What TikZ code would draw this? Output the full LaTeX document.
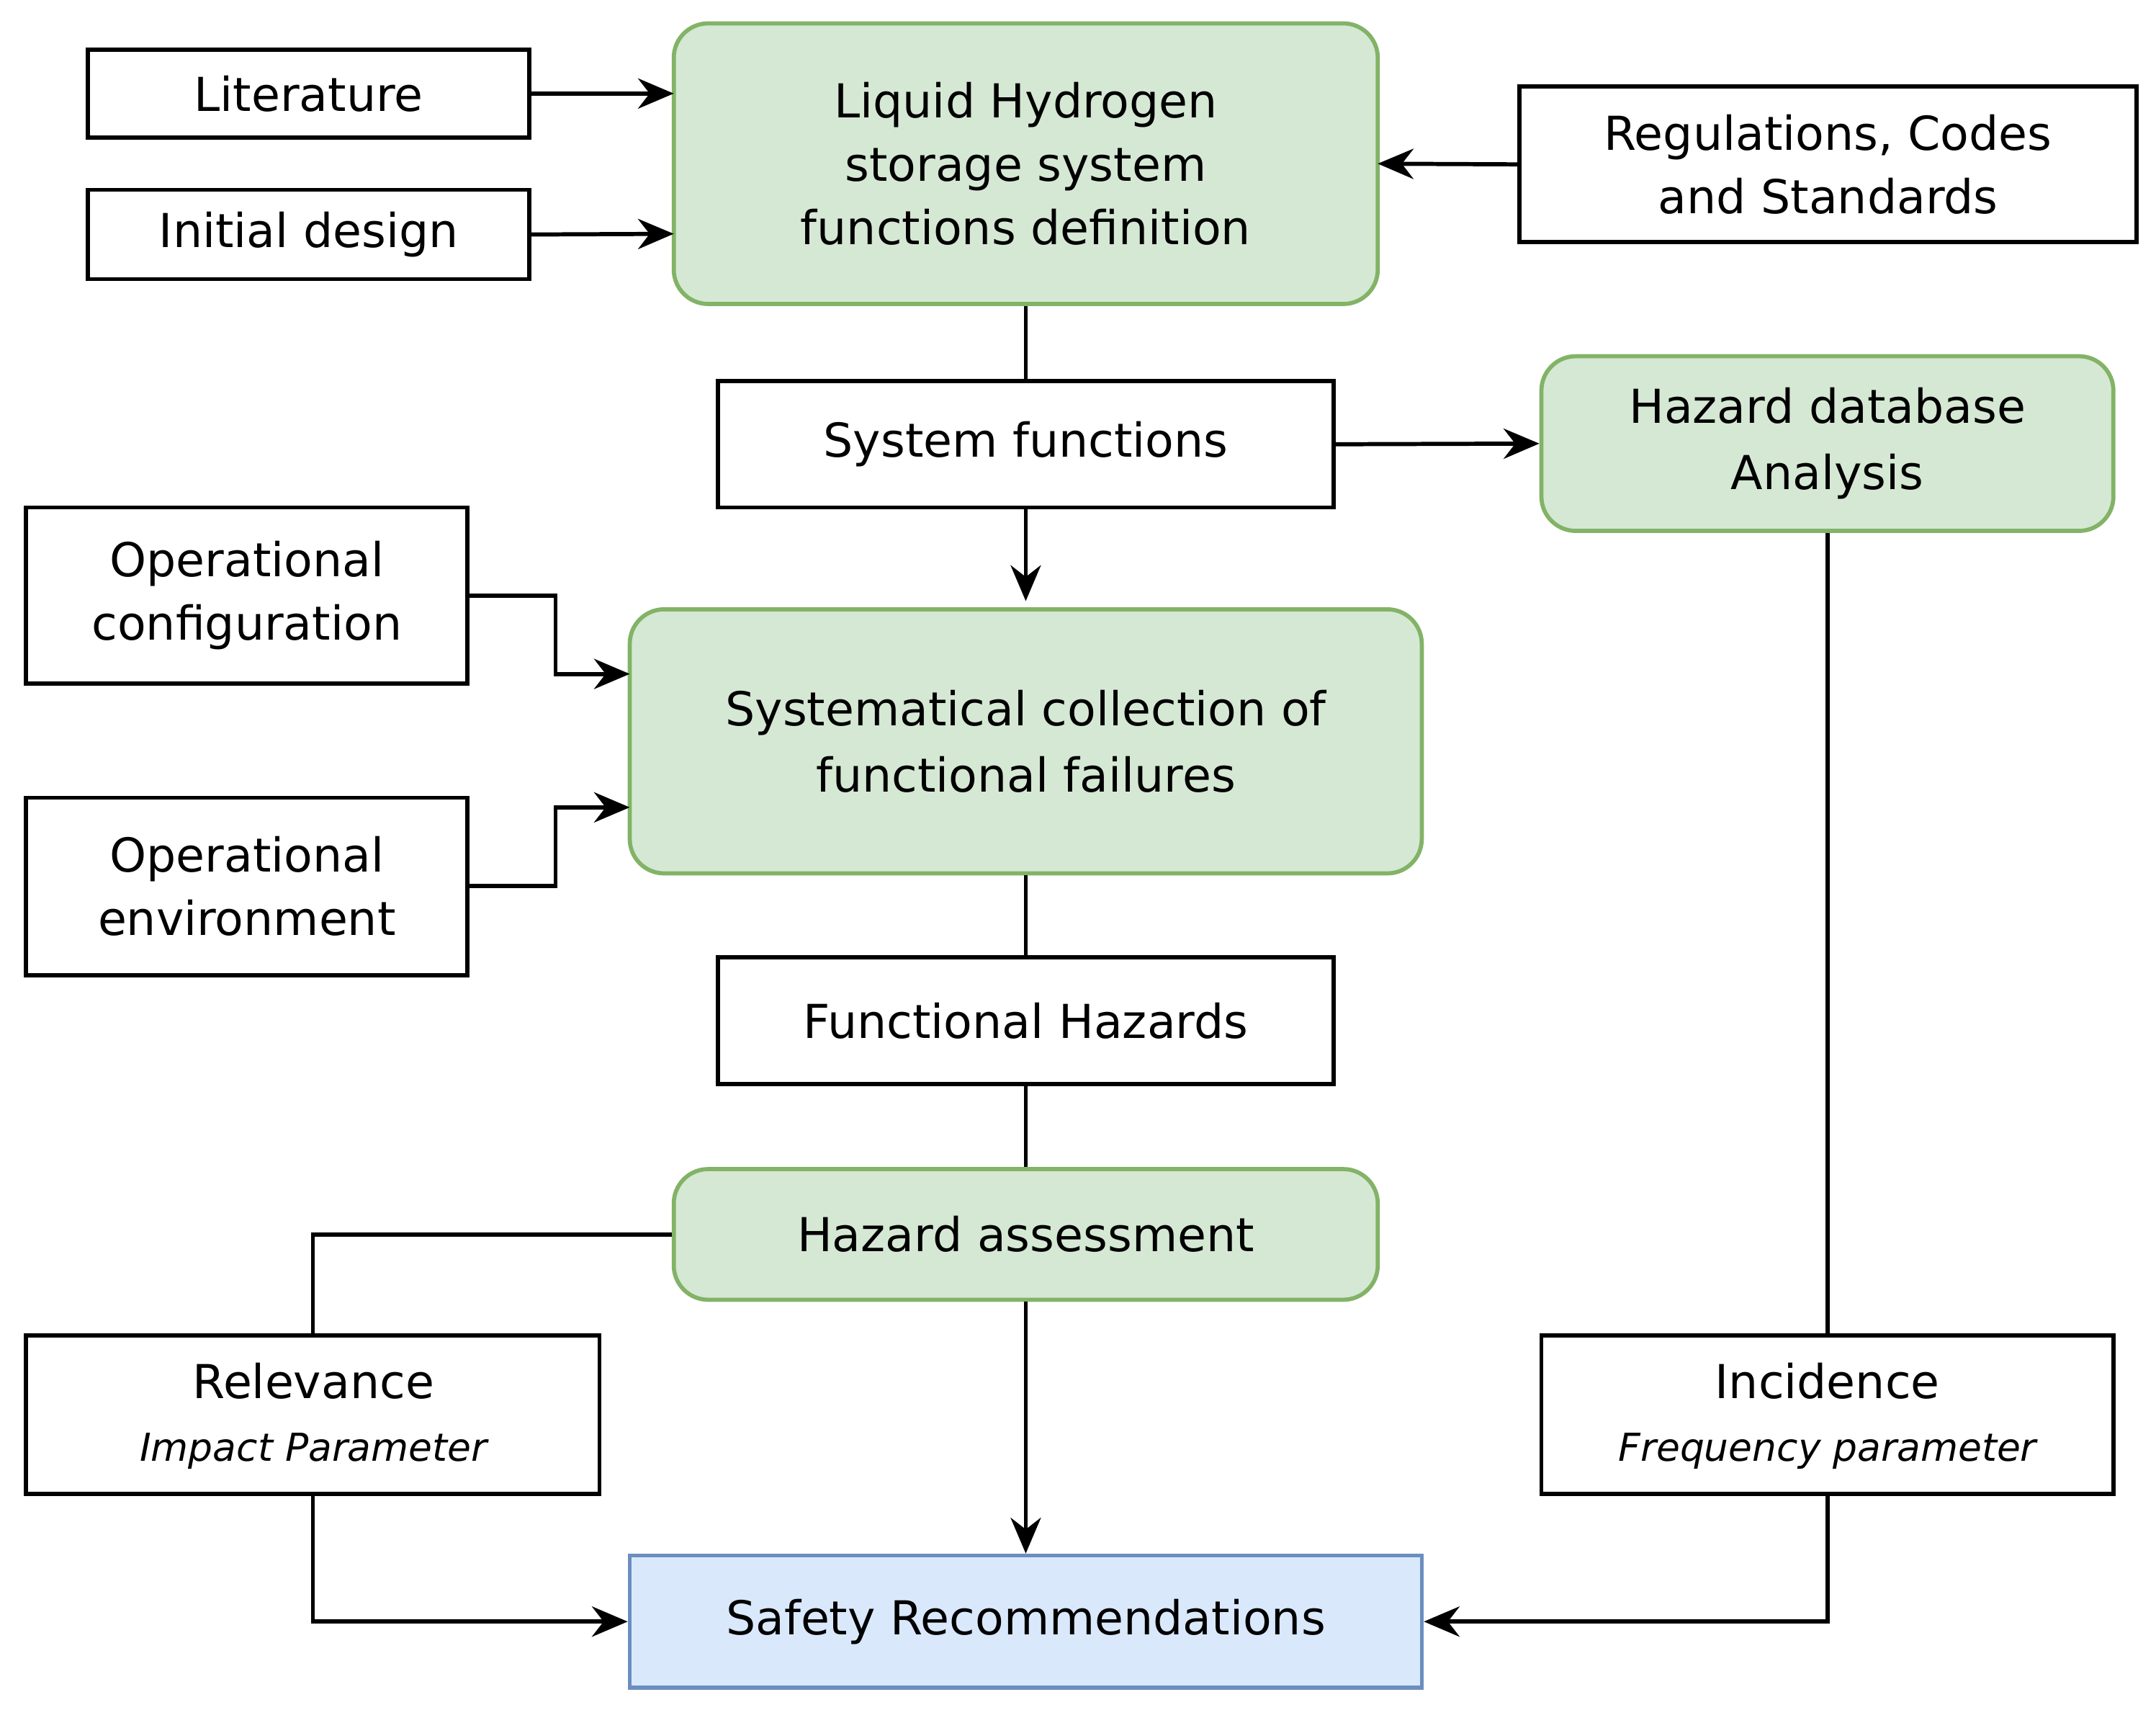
\documentclass[tikz,border=0pt]{standalone}
\usepackage{fontspec}
\setmainfont{DejaVu Sans}
\usetikzlibrary{arrows.meta}
\definecolor{gfill}{HTML}{D5E8D4}\definecolor{gdraw}{HTML}{82B366}
\definecolor{bfill}{HTML}{DAE8FC}\definecolor{bdraw}{HTML}{6C8EBF}
\begin{document}
\begin{tikzpicture}[x=1pt,y=-1pt,line width=3pt,
 font=\fontsize{34}{46}\selectfont,
 box/.style={draw=black,inner sep=0pt,align=center},
 green/.style={draw=gdraw,fill=gfill,rounded corners=25pt,inner sep=0pt,align=center},
 blue/.style={draw=bdraw,fill=bfill,inner sep=0pt,align=center},
 arr/.style={-{Stealth[length=26pt,width=22pt]}},
 it/.style={font=\fontsize{28}{34}\selectfont\itshape}]
\useasboundingbox (0,0) rectangle (1568,1243);
\newcommand{\bx}[6]{\node[#1,minimum width=#4-#2,minimum height=#5-#3] (#6) at ({(#2+#4)/2},{(#3+#5)/2}) {};}
\bx{box}{64}{36}{385}{100}{lit}
\bx{box}{64}{138}{385}{203}{ini}
\bx{green}{490}{17}{1002}{221}{lh}
\bx{box}{1105}{63}{1554}{176}{reg}
\bx{box}{522}{277}{970}{369}{sf}
\bx{green}{1121}{259}{1537}{386}{hdb}
\bx{box}{19}{369}{340}{497}{oc}
\bx{green}{458}{443}{1034}{635}{sys}
\bx{box}{19}{580}{340}{709}{oe}
\bx{box}{522}{696}{970}{788}{fh}
\bx{green}{490}{850}{1002}{945}{ha}
\bx{box}{19}{971}{436}{1086}{rel}
\bx{box}{1121}{971}{1537}{1086}{inc}
\bx{blue}{458}{1131}{1034}{1227}{sr}
\node[align=center] at (lit) {Literature};
\node[align=center] at (ini) {Initial design};
\node[align=center] at (lh) {Liquid Hydrogen\\storage system\\functions definition};
\node[align=center] at (reg) {Regulations, Codes\\and Standards};
\node[align=center] at (sf) {System functions};
\node[align=center,font=\fontsize{34}{48}\selectfont] at (hdb) {Hazard database\\Analysis};
\node[align=center] at (oc) {Operational\\configuration};
\node[align=center,font=\fontsize{34}{48}\selectfont] at (sys) {Systematical collection of\\functional failures};
\node[align=center] at (oe) {Operational\\environment};
\node[align=center] at (fh) {Functional Hazards};
\node[align=center] at (ha) {Hazard assessment};
\node (relt) at (228,1004) {Relevance};
\node[it] (reli) at (228,1055) {Impact Parameter};
\node (inct) at (1329,1004) {Incidence};
\node[it] (inci) at (1329,1055) {Frequency parameter};
\node[align=center] at (sr) {Safety Recommendations};
\draw[arr] (lit.east) -- (490,68);
\draw[arr] (ini.east) -- (490,170);
\draw[arr] (reg.west) -- (1002,119);
\draw (lh.south) -- (sf.north);
\draw[arr] (sf.south) -- (746,437);
\draw[arr] (sf.east) -- (hdb.west);
\draw[arr] (340,433) -- (404,433) -- (404,490) -- (458,490);
\draw[arr] (340,644) -- (404,644) -- (404,587) -- (458,587);
\draw (sys.south) -- (fh.north);
\draw (fh.south) -- (ha.north);
\draw (ha.west) -| (rel.north);
\draw[arr] (ha.south) -- (sr.north);
\draw[arr] (rel.south) |- (sr.west);
\draw (hdb.south) -- (inc.north);
\draw[arr] (inc.south) |- (sr.east);
\end{tikzpicture}
\end{document}
